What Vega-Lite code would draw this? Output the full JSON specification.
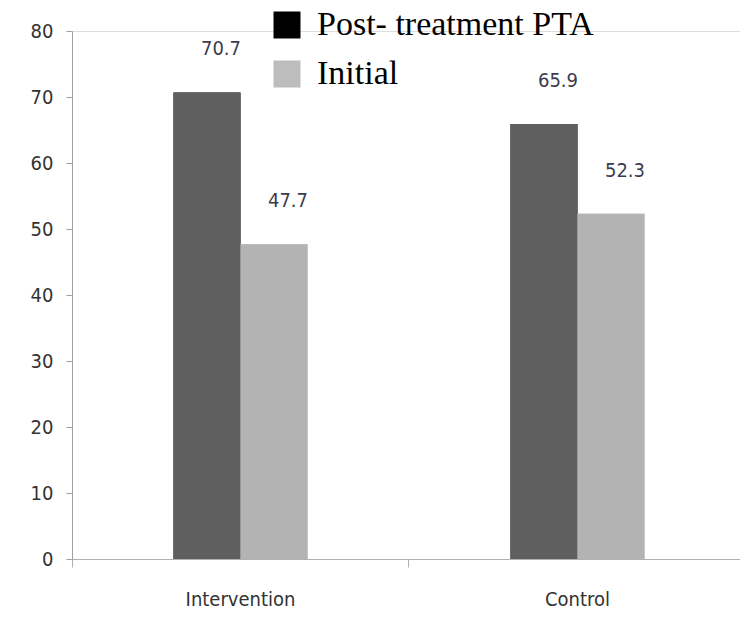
{
  "$schema": "https://vega.github.io/schema/vega-lite/v6.json",
  "autosize": "none",
  "width": 674,
  "height": 528,
  "padding": {"left": 72, "top": 31, "right": 0, "bottom": 80},
  "background": "white",
  "data": {"values": [
    {"group": "Intervention", "series": "Post- treatment PTA", "value": 70.7},
    {"group": "Intervention", "series": "Initial", "value": 47.7},
    {"group": "Control", "series": "Post- treatment PTA", "value": 65.9},
    {"group": "Control", "series": "Initial", "value": 52.3}
  ]},
  "encoding": {
    "x": {"field": "group", "type": "nominal", "sort": ["Intervention", "Control"],
      "scale": {"paddingInner": 0.2047, "paddingOuter": 0.1024},
      "axis": {"title": null, "labelAngle": 0, "bandPosition": -0.1287, "labelFont": "DejaVu Sans Condensed", "labelFontSize": 20, "labelColor": "#333333", "labelPadding": 22, "tickSize": 8, "tickColor": "#b0b0b0", "domainColor": "#b0b0b0", "grid": false, "labelBound": false, "labelFlush": false}},
    "xOffset": {"field": "series", "type": "nominal", "sort": ["Post- treatment PTA", "Initial"],
      "scale": {"paddingInner": 0, "paddingOuter": 1}},
    "y": {"field": "value", "type": "quantitative",
      "scale": {"domain": [0, 80]},
      "axis": {"title": null, "values": [0,10,20,30,40,50,60,70,80], "grid": false, "labelFont": "DejaVu Sans Condensed", "labelFontSize": 20, "labelColor": "#333333", "labelPadding": 13, "tickSize": 6, "tickColor": "#a0a0a0", "domainColor": "#a0a0a0"}}
  },
  "layer": [
    {"mark": {"type": "bar"},
     "encoding": {
       "color": {"field": "series", "type": "nominal", "sort": ["Post- treatment PTA", "Initial"],
         "scale": {"domain": ["Post- treatment PTA", "Initial"], "range": ["#000000", "#bdbdbd"]},
         "legend": {"title": null, "orient": "none", "legendX": 198, "legendY": -23, "padding": 0, "symbolType": "square", "symbolSize": 729, "symbolStrokeWidth": 0, "labelFont": "Liberation Serif", "labelFontSize": 34, "labelColor": "#000000", "labelLimit": 500, "rowPadding": 15, "labelOffset": 13, "symbolOpacity": 1}}
     }
    },
    {"mark": {"type": "bar"},
     "encoding": {
       "fill": {"field": "series", "type": "nominal", "sort": ["Post- treatment PTA", "Initial"],
         "scale": {"domain": ["Post- treatment PTA", "Initial"], "range": ["#5f5f5f", "#b3b3b3"]},
         "legend": null}
     }
    },
    {"mark": {"type": "text", "dy": -43, "dx": 14, "font": "DejaVu Sans Condensed", "fontSize": 20, "color": "#3c3c4e"},
     "encoding": {"text": {"field": "value", "type": "quantitative", "format": ".1f"}}}
  ]
}
